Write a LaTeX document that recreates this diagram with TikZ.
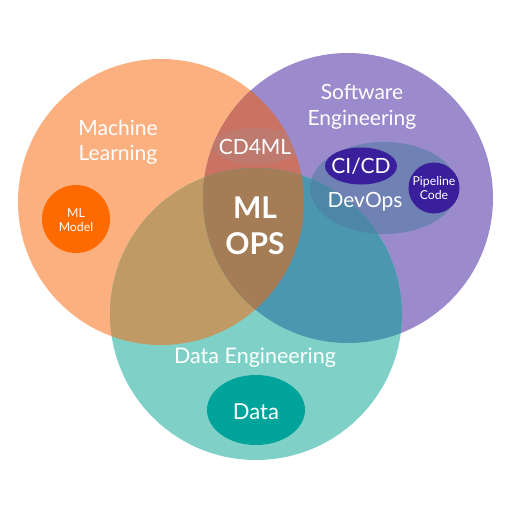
\documentclass[tikz,border=0pt]{standalone}
\usepackage{fontspec}
\setmainfont{Lato}
\begin{document}
\begin{tikzpicture}[x=1pt,y=-1pt,
  lbl/.style={text=white, align=center, inner sep=0pt, font=\fontsize{21}{25.5}\selectfont},
  small/.style={text=white, align=center, inner sep=0pt, font=\fontsize{12.3}{13.5}\selectfont}]
\definecolor{mlc}{RGB}{252,176,127}
\definecolor{sec}{RGB}{155,139,204}
\definecolor{dec}{RGB}{127,209,200}
\definecolor{mlse}{RGB}{203,115,99}
\definecolor{mlde}{RGB}{191,154,100}
\definecolor{sede}{RGB}{76,151,176}
\definecolor{allc}{RGB}{164,124,86}
\definecolor{dpurp}{RGB}{58,31,156}
\definecolor{orng}{RGB}{255,106,0}
\definecolor{tealdk}{RGB}{0,164,154}
\definecolor{devc}{RGB}{78,122,160}
\definecolor{cdc}{RGB}{160,140,140}
\useasboundingbox (0,0) rectangle (512,512);
\coordinate (ml) at (161,202);
\coordinate (se) at (348,198);
\coordinate (de) at (256,314);
% base circles
\fill[mlc] (ml) circle (143);
\fill[sec] (se) circle (145);
\fill[dec] (de) circle (146);
% overlaps
\begin{scope}\clip (ml) circle (143); \fill[mlse] (se) circle (145); \end{scope}
\begin{scope}\clip (ml) circle (143); \fill[mlde] (de) circle (146); \end{scope}
\begin{scope}\clip (se) circle (145); \fill[sede] (de) circle (146); \end{scope}
\begin{scope}\clip (ml) circle (143); \clip (se) circle (145); \fill[allc] (de) circle (146); \end{scope}
% inner shapes
\begin{scope}\clip (ml) circle (143); \clip (se) circle (145);
  \fill[cdc, fill opacity=0.3] (256,146) ellipse (44 and 18);
\end{scope}
\fill[devc, fill opacity=0.55] (384,188) ellipse (74 and 46);
\fill[dpurp] (361,166) ellipse (36 and 18.5);
\fill[dpurp] (434,188) circle (25.5);
\fill[orng] (76,219) circle (34);
\fill[tealdk] (256,410) ellipse (49 and 35);
% labels
\node[lbl] (mltext) at (118,142) {Machine\\Learning};
\node[lbl] (setext) at (362,107) {Software\\Engineering};
\node[lbl] (cd4ml) at (255,147) {CD4ML};
\node[lbl, font=\fontsize{30}{36}\bfseries\selectfont] (mlops) at (255,226) {ML\\OPS};
\node[lbl] (cicd) at (361,166) {CI/CD};
\node[lbl] (devops) at (365,202) {DevOps};
\node[small] (pipe) at (434,188) {Pipeline\\Code};
\node[small] (mlmodel) at (76,220) {ML\\Model};
\node[lbl, font=\fontsize{21.5}{25}\selectfont] (detext) at (255,358) {Data Engineering};
\node[lbl, font=\fontsize{22}{25}\selectfont] (data) at (256,412) {Data};
\end{tikzpicture}
\end{document}
